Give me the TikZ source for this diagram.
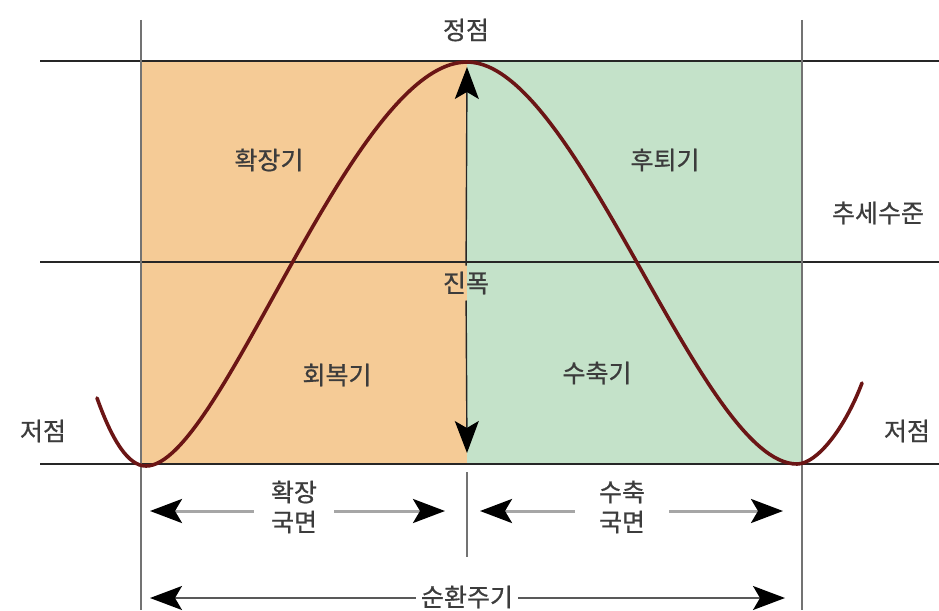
\documentclass[tikz,border=0pt]{standalone}
\usepackage{fontspec}
\setmainfont{Noto Sans CJK KR}
\newfontfamily\kofont{Noto Sans CJK KR}[FakeBold=0.7]
\usetikzlibrary{positioning, arrows.meta}
\definecolor{expfill}{HTML}{F5CB96}
\definecolor{confill}{HTML}{C4E2C9}
\definecolor{cyclered}{HTML}{6B1515}
\definecolor{labelgray}{HTML}{3C3C3C}

\begin{document}
\begin{tikzpicture}[
    x=1pt, y=-1pt,
    lbl/.style={text=labelgray, font=\kofont\fontsize{25}{30}\selectfont, inner sep=1pt, align=center},
    level/.style={line width=1.4pt, black!85},
    guide/.style={line width=2pt, black!55},
    bigtip/.tip={Stealth[length=32pt, width=24pt, inset=7pt, color=black]},
    phase/.style={line width=3pt, black!35},
    period/.style={line width=1.6pt, black!65},
    amp/.style={line width=1.4pt, black!85},
    wave/.style={line width=3.6pt, cyclered, line cap=round}
  ]
  \useasboundingbox (0,0) rectangle (939,610);

  % 영역
  \fill[expfill] (141,61) rectangle (467,464);
  \fill[confill] (467,61) rectangle (802,464);

  % 기준선
  \coordinate (topL) at (40,61);   \coordinate (topR) at (939,61);
  \coordinate (midL) at (40,262);  \coordinate (midR) at (939,262);
  \coordinate (botL) at (40,464);  \coordinate (botR) at (939,464);
  \draw[level] (topL) -- (topR);
  \draw[level] (midL) -- (midR);
  \draw[level] (botL) -- (botR);

  \coordinate (leftT) at (141,20);  \coordinate (leftB) at (141,610);
  \coordinate (rightT) at (802,20); \coordinate (rightB) at (802,610);
  \coordinate (tickT) at (467,472); \coordinate (tickB) at (467,557);
  \draw[guide] (leftT) -- (leftB);
  \draw[guide] (rightT) -- (rightB);
  \draw[guide] (tickT) -- (tickB);

  % 라벨
  \node[lbl] (peak) at (466,30) {정점};
  \node[lbl] (boom) at (269,160) {확장기};
  \node[lbl] (reces) at (665,160) {후퇴기};
  \node[lbl] (trend) at (878,213) {추세수준};
  \node[lbl, inner ysep=6pt] (ampl) at (466,283) {진폭};
  \node[lbl] (recov) at (337,375) {회복기};
  \node[lbl] (contr) at (597,373) {수축기};
  \node[lbl] (lowL) at (43,431) {저점};
  \node[lbl] (lowR) at (907,431) {저점};

  % 진폭 화살표
  \coordinate (ampTop) at (467,67);
  \coordinate (ampBot) at (467,453);
  \draw[amp, -bigtip] (ampl) -- (ampTop);
  \draw[amp, -bigtip] (ampl) -- (ampBot);

  % 국면
  \node[lbl, inner xsep=17pt] (expph) at (294,507) {확장\\국면};
  \node[lbl, inner xsep=24pt] (conph) at (622,507) {수축\\국면};
  \coordinate (expL) at (150,511); \coordinate (expR) at (445,511);
  \coordinate (conL) at (480,511); \coordinate (conR) at (783,511);
  \draw[phase, bigtip-] (expL) -- (expL -| expph.west);
  \draw[phase, -bigtip] (expR -| expph.east) -- (expR);
  \draw[phase, bigtip-] (conL) -- (conL -| conph.west);
  \draw[phase, -bigtip] (conR -| conph.east) -- (conR);

  % 순환주기
  \node[lbl, inner xsep=5pt] (cycle) at (467,597) {순환주기};
  \coordinate (cycL) at (150,598); \coordinate (cycR) at (785,598);
  \draw[period, bigtip-] (cycL) -- (cycL -| cycle.west);
  \draw[period, -bigtip] (cycR -| cycle.east) -- (cycR);

  % 경기순환 곡선
  \draw[wave] (97,398) .. controls (112,440) and (128,466) .. (146,466)
    .. controls (221,466) and (352,62) .. (467,62)
    .. controls (577,62) and (701,464) .. (797,464)
    .. controls (817,464) and (845,428) .. (862,383);

\end{tikzpicture}
\end{document}
